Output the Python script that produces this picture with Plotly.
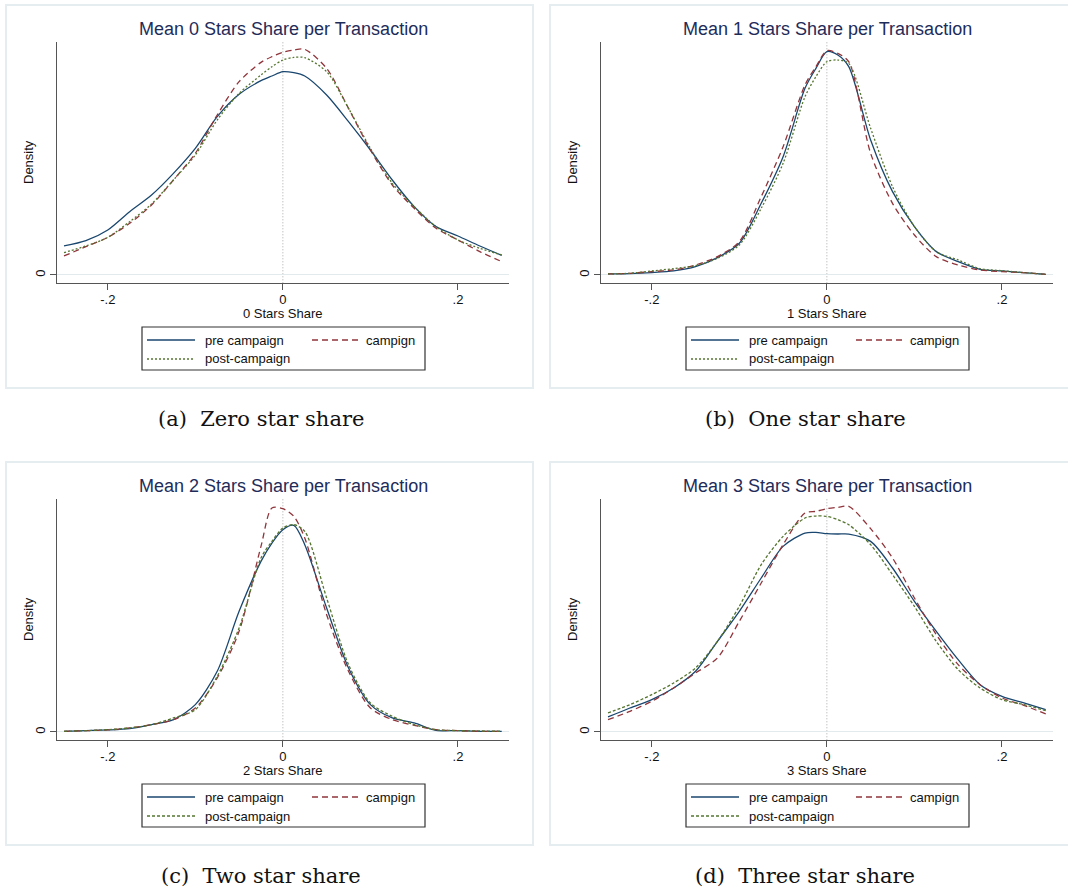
import plotly.graph_objects as go

W, H = 1068, 893

# ---------------- data ----------------
share_grid = [-0.25, -0.225, -0.2, -0.175, -0.15, -0.125, -0.1, -0.075, -0.05, -0.025, -0.0125,
              0.0, 0.0125, 0.025, 0.05, 0.075, 0.1, 0.125, 0.15, 0.175, 0.2, 0.225, 0.25]

series_names = ["pre campaign", "campign", "post-campaign"]
panel_titles = ["Mean 0 Stars Share per Transaction", "Mean 1 Stars Share per Transaction",
                "Mean 2 Stars Share per Transaction", "Mean 3 Stars Share per Transaction"]
x_titles = ["0 Stars Share", "1 Stars Share", "2 Stars Share", "3 Stars Share"]
captions = ["(a)  Zero star share", "(b)  One star share", "(c)  Two star share", "(d)  Three star share"]
y_title = "Density"
xtick_vals = [-0.2, 0.0, 0.2]
xtick_text = ["-.2", "0", ".2"]
ytick_vals = [0]
ytick_text = ["0"]

# 0 stars
pre_0 = [0.87, 1.03, 1.35, 1.90, 2.40, 3.05, 3.80, 4.75, 5.42, 5.83, 5.97, 6.10, 6.07, 5.97, 5.40, 4.60,
         3.75, 2.85, 2.05, 1.45, 1.17, 0.87, 0.59]
camp_0 = [0.57, 0.85, 1.13, 1.55, 2.10, 2.85, 3.65, 4.80, 5.80, 6.38, 6.55, 6.68, 6.75, 6.77, 6.20, 5.00,
          3.75, 2.70, 2.00, 1.40, 1.05, 0.70, 0.40]
post_0 = [0.67, 0.87, 1.13, 1.60, 2.13, 2.85, 3.60, 4.65, 5.45, 6.00, 6.25, 6.45, 6.53, 6.52, 6.10, 5.00,
          3.80, 2.75, 2.05, 1.45, 1.05, 0.80, 0.60]
# 1 star
pre_1 = [0.03, 0.04, 0.07, 0.12, 0.25, 0.52, 0.95, 2.15, 3.55, 5.60, 6.20, 6.70, 6.60, 6.25, 4.05, 2.50,
         1.45, 0.70, 0.40, 0.17, 0.12, 0.07, 0.02]
camp_1 = [0.03, 0.05, 0.10, 0.15, 0.30, 0.55, 1.00, 2.35, 3.85, 5.70, 6.25, 6.73, 6.65, 6.40, 3.65, 2.15,
          1.20, 0.55, 0.30, 0.15, 0.10, 0.07, 0.02]
post_1 = [0.03, 0.05, 0.12, 0.19, 0.28, 0.50, 0.90, 2.00, 3.35, 5.35, 5.95, 6.40, 6.45, 6.35, 4.40, 2.65,
          1.45, 0.70, 0.45, 0.19, 0.13, 0.07, 0.02]
# 2 stars
pre_2 = [0.02, 0.04, 0.06, 0.10, 0.22, 0.37, 0.82, 1.82, 3.62, 5.12, 5.67, 6.07, 6.20, 5.62, 3.72, 1.92,
         0.82, 0.42, 0.27, 0.05, 0.04, 0.02, 0.02]
camp_2 = [0.02, 0.04, 0.06, 0.12, 0.22, 0.37, 0.72, 1.62, 3.02, 5.57, 6.72, 6.70, 6.47, 5.82, 3.52, 1.82,
          0.72, 0.37, 0.20, 0.07, 0.04, 0.02, 0.02]
post_2 = [0.02, 0.04, 0.07, 0.12, 0.22, 0.42, 0.67, 1.67, 3.12, 5.22, 5.72, 6.12, 6.22, 6.02, 4.02, 2.02,
          0.87, 0.47, 0.22, 0.07, 0.04, 0.03, 0.02]
# 3 stars
pre_3 = [0.45, 0.72, 0.97, 1.32, 1.82, 2.72, 3.62, 4.62, 5.57, 5.97, 5.99, 5.95, 5.94, 5.94, 5.72, 4.92,
         3.92, 3.02, 2.17, 1.42, 1.07, 0.87, 0.67]
camp_3 = [0.37, 0.62, 0.92, 1.32, 1.77, 2.22, 3.32, 4.47, 5.62, 6.57, 6.62, 6.70, 6.74, 6.77, 6.10, 5.22,
          4.02, 2.92, 2.02, 1.42, 1.02, 0.80, 0.54]
post_3 = [0.57, 0.82, 1.12, 1.47, 1.92, 2.72, 3.77, 5.02, 5.87, 6.42, 6.48, 6.47, 6.37, 6.22, 5.62, 4.72,
          3.77, 2.72, 1.87, 1.32, 0.97, 0.82, 0.64]

panel_series = [(pre_0, camp_0, post_0), (pre_1, camp_1, post_1),
                (pre_2, camp_2, post_2), (pre_3, camp_3, post_3)]

# ---------------- styles ----------------
colors = ["#1a476f", "#90353b", "#55752f"]
dashes_top = ["solid", "6px,4px", "2px,2px"]
dashes_bot = ["solid", "6px,4px", "3px,2px"]
SANS = "Liberation Sans, Arial, sans-serif"
SERIF = "DejaVu Serif, serif"
title_color = "#1e2c5a"
axis_color = "#555555"

# panel geometry (pixels); offsets for the 2x2 grid
offsets = [(0, 0), (544, 0), (0, 457), (544, 457)]
PL, PR, PT, PB = 57, 509, 41.7, 283.3
X_RANGE = [-0.258, 0.2583]
Y_RANGE = [-0.25, 7.0]


def fx(x):
    return x / W


def fy(y):
    return 1 - y / H


fig = go.Figure()
shapes, annotations = [], []
layout = dict(width=W, height=H, margin=dict(l=0, r=0, t=0, b=0),
              paper_bgcolor="white", plot_bgcolor="white", showlegend=False,
              font=dict(family=SANS, size=13, color="#111111"))

for i, (ox, oy) in enumerate(offsets):
    sfx = "" if i == 0 else str(i + 1)
    xa, ya = "x" + sfx, "y" + sfx
    dashes = dashes_top if i < 2 else dashes_bot

    layout["xaxis" + sfx] = dict(
        domain=[fx(PL + ox), fx(PR + ox)], anchor=ya, range=X_RANGE,
        showgrid=False, zeroline=False, showline=True, linecolor=axis_color, linewidth=1.3,
        ticks="outside", ticklen=6, tickwidth=1.2, tickcolor=axis_color,
        tickvals=xtick_vals, ticktext=xtick_text, tickfont=dict(size=13, color="#111111"),
        ticklabelstandoff=-2, fixedrange=True)
    layout["yaxis" + sfx] = dict(
        domain=[fy(PB + oy), fy(PT + oy)], anchor=xa, range=Y_RANGE,
        showgrid=True, gridcolor="#e3eaed", gridwidth=1, zeroline=False,
        showline=True, linecolor=axis_color, linewidth=1.3,
        ticks="outside", ticklen=6, tickwidth=1.2, tickcolor=axis_color,
        tickvals=ytick_vals, ticktext=ytick_text, tickangle=-90,
        tickfont=dict(size=13, color="#111111"), fixedrange=True)

    for k, vals in enumerate(panel_series[i]):
        fig.add_trace(go.Scatter(
            x=share_grid, y=vals, mode="lines", name=series_names[k],
            line=dict(color=colors[k], width=1.3, dash=dashes[k], shape="spline", smoothing=0.8),
            xaxis=xa, yaxis=ya, hoverinfo="skip"))

    # outer frame of graph region
    shapes.append(dict(type="rect", xref="paper", yref="paper",
                       x0=fx(6 + ox), x1=fx(533 + ox), y0=fy(388 + oy), y1=fy(5 + oy),
                       line=dict(color="#e6edf1", width=2), layer="below"))
    # reference line at zero
    shapes.append(dict(type="line", xref=xa, yref=ya + " domain", x0=0, x1=0, y0=0, y1=1,
                       line=dict(color="#a8a8a8", width=1, dash="1px,2px"), layer="below"))
    # legend box
    shapes.append(dict(type="rect", xref="paper", yref="paper",
                       x0=fx(142 + ox), x1=fx(425 + ox), y0=fy(370 + oy), y1=fy(327 + oy),
                       line=dict(color="#333333", width=1.2)))
    legend_slots = [(147, 195, 340), (312, 360, 340), (147, 195, 359)]
    for k, (lx0, lx1, ly) in enumerate(legend_slots):
        shapes.append(dict(type="line", xref="paper", yref="paper",
                           x0=fx(lx0 + ox), x1=fx(lx1 + ox), y0=fy(ly + oy), y1=fy(ly + oy),
                           line=dict(color=colors[k], width=1.3, dash=dashes[k])))
    annotations.append(dict(text=series_names[0], xref="paper", yref="paper",
                            x=fx(203 + ox), y=fy(340 + oy), xanchor="left", yanchor="middle",
                            showarrow=False, font=dict(size=13, color="#111111")))
    annotations.append(dict(text=series_names[1], xref="paper", yref="paper",
                            x=fx(417 + ox), y=fy(340 + oy), xanchor="right", yanchor="middle",
                            showarrow=False, font=dict(size=13, color="#111111")))
    annotations.append(dict(text=series_names[2], xref="paper", yref="paper",
                            x=fx(203 + ox), y=fy(359 + oy), xanchor="left", yanchor="middle",
                            showarrow=False, font=dict(size=13, color="#111111")))
    # titles
    annotations.append(dict(text=panel_titles[i], xref="paper", yref="paper",
                            x=fx(283 + ox), y=fy(29 + oy), xanchor="center", yanchor="middle",
                            showarrow=False, font=dict(size=18, color=title_color)))
    annotations.append(dict(text=x_titles[i], xref="paper", yref="paper",
                            x=fx(283 + ox), y=fy(313.5 + oy), xanchor="center", yanchor="middle",
                            showarrow=False, font=dict(size=13, color="#111111")))
    annotations.append(dict(text=y_title, xref="paper", yref="paper", textangle=-90,
                            x=fx(28 + ox), y=fy(162 + oy), xanchor="center", yanchor="middle",
                            showarrow=False, font=dict(size=13, color="#111111")))
    annotations.append(dict(text=captions[i], xref="paper", yref="paper",
                            x=fx(261 + ox), y=fy(419 + oy), xanchor="center", yanchor="middle",
                            showarrow=False, font=dict(family=SERIF, size=21, color="#111111")))

layout["shapes"] = shapes
layout["annotations"] = annotations
fig.update_layout(**layout)
fig.write_html("out.html")
